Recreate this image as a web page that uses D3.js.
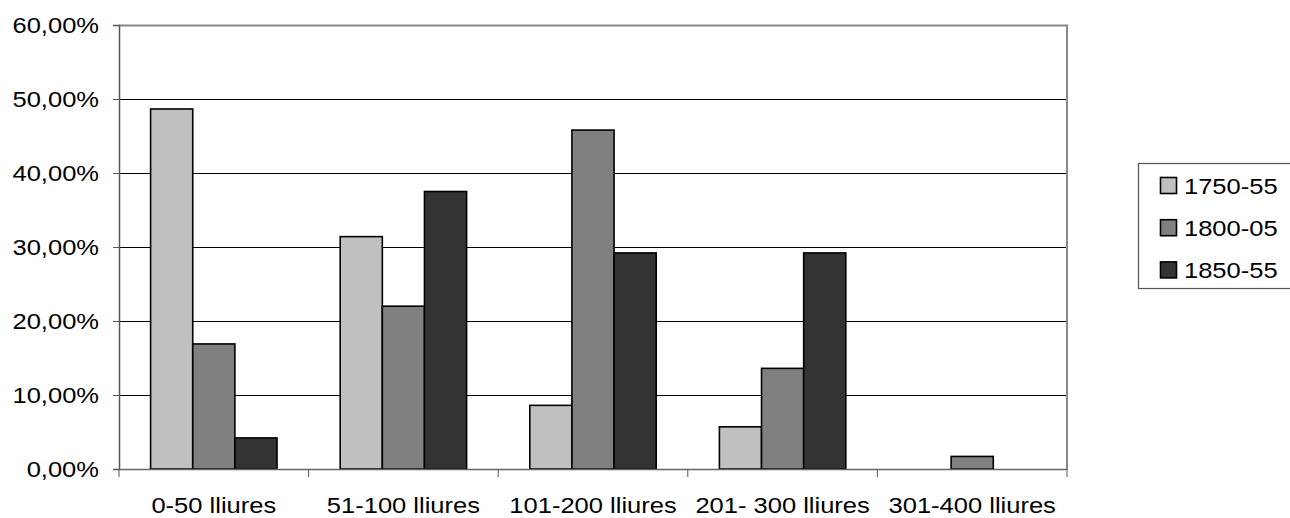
<!DOCTYPE html>
<html>
<head>
<meta charset="utf-8">
<script src="https://cdn.jsdelivr.net/npm/d3@7"></script>
<style>
  html, body { margin: 0; padding: 0; background: #fff; }
  svg { display: block; font-family: "Liberation Sans", Arial, sans-serif; }
</style>
</head>
<body>
<div id="chart"></div>
<script>
// Data
const categories = ['0-50 lliures', '51-100 lliures', '101-200 lliures', '201- 300 lliures', '301-400 lliures'];
const seriesNames = ['1750-55', '1800-05', '1850-55'];
const s1750 = [48.65, 31.4, 8.6, 5.7, 0];
const s1800 = [16.9, 22.0, 45.8, 13.6, 1.7];
const s1850 = [4.2, 37.5, 29.2, 29.2, 0];
const yTicks = [0, 10, 20, 30, 40, 50, 60];
const seriesColors = ['#c0c0c0', '#808080', '#333333'];

const seriesValues = [s1750, s1800, s1850];

const width = 1290, height = 518;
const plot = { left: 119, right: 1067, top: 25, bottom: 469 };
const fontSize = 22;
const stretch = 1.16; // the original picture is stretched sideways

const svg = d3.select('#chart').append('svg')
  .attr('width', width)
  .attr('height', height);

const x0 = d3.scaleBand()
  .domain(categories)
  .range([plot.left, plot.right])
  .paddingInner(0).paddingOuter(0);

const catW = x0.bandwidth();
const barW = catW / 4.5; // gap width 150%
const x1 = d3.scaleBand()
  .domain(seriesNames)
  .range([barW * 0.75, catW - barW * 0.75]);

const y = d3.scaleLinear()
  .domain([0, 60])
  .range([plot.bottom, plot.top]);

const fmt = v => d3.format('.2f')(v).replace('.', ',') + '%';

// stretched text helper
function label(g, x, yy, txt, anchor) {
  return g.append('text')
    .attr('transform', `translate(${x},${yy}) scale(${stretch},1)`)
    .attr('text-anchor', anchor)
    .attr('font-size', fontSize)
    .attr('fill', '#000')
    .text(txt);
}

// gridlines
svg.append('g')
  .selectAll('line')
  .data(yTicks.filter(t => t > 0 && t < 60))
  .join('line')
  .attr('x1', plot.left).attr('x2', plot.right)
  .attr('y1', d => Math.round(y(d)) + 0.5).attr('y2', d => Math.round(y(d)) + 0.5)
  .attr('stroke', '#000')
  .attr('stroke-width', 1);

// plot border top/right
svg.append('path')
  .attr('d', `M${plot.left},${plot.top + 0.5}H${plot.right}V${plot.bottom}`)
  .attr('fill', 'none')
  .attr('stroke', '#888')
  .attr('stroke-width', 2);

// bars
const groups = svg.append('g')
  .selectAll('g')
  .data(categories)
  .join('g')
  .attr('transform', d => `translate(${x0(d)},0)`);

groups.selectAll('rect')
  .data((c, i) => seriesNames.map((s, j) => ({ s, j, v: seriesValues[j][i] })).filter(d => d.v > 0))
  .join('rect')
  .attr('x', d => x1(d.s))
  .attr('width', x1.bandwidth())
  .attr('y', d => y(d.v))
  .attr('height', d => y(0) - y(d.v))
  .attr('fill', d => seriesColors[d.j])
  .attr('stroke', '#000')
  .attr('stroke-width', 1.6);

// y axis
const yAxis = svg.append('g')
  .attr('transform', `translate(${plot.left},0)`)
  .call(d3.axisLeft(y).tickValues(yTicks).tickSize(6).tickFormat(''));
yAxis.select('.domain').attr('stroke', '#555').attr('stroke-width', 1.5);
yAxis.selectAll('.tick line').attr('stroke', '#555');
yTicks.forEach(t => {
  label(svg, 99, y(t) + 8, fmt(t), 'end');
});

// x axis
const xAxis = svg.append('g')
  .attr('transform', `translate(0,${plot.bottom})`)
  .call(d3.axisBottom(x0).tickSize(0).tickFormat(''));
xAxis.select('.domain').attr('stroke', '#666').attr('stroke-width', 1.5);
xAxis.append('g')
  .selectAll('line')
  .data(categories.map(c => x0(c)).concat([plot.right]))
  .join('line')
  .attr('x1', d => d).attr('x2', d => d)
  .attr('y1', 0).attr('y2', 8)
  .attr('stroke', '#555');

categories.forEach(c => {
  label(svg, x0(c) + catW / 2, 513, c, 'middle');
});

// legend
const legend = svg.append('g');
legend.append('rect')
  .attr('x', 1138.5).attr('y', 163.5)
  .attr('width', 170).attr('height', 125)
  .attr('fill', '#fff')
  .attr('stroke', '#555')
  .attr('stroke-width', 1.2);

seriesNames.forEach((s, i) => {
  const cy = 185.5 + i * 42.2;
  legend.append('rect')
    .attr('x', 1160.5).attr('y', cy - 8)
    .attr('width', 16).attr('height', 16)
    .attr('fill', seriesColors[i])
    .attr('stroke', '#000')
    .attr('stroke-width', 1.6);
  label(legend, 1184, cy + 8, s, 'start');
});
</script>
</body>
</html>
